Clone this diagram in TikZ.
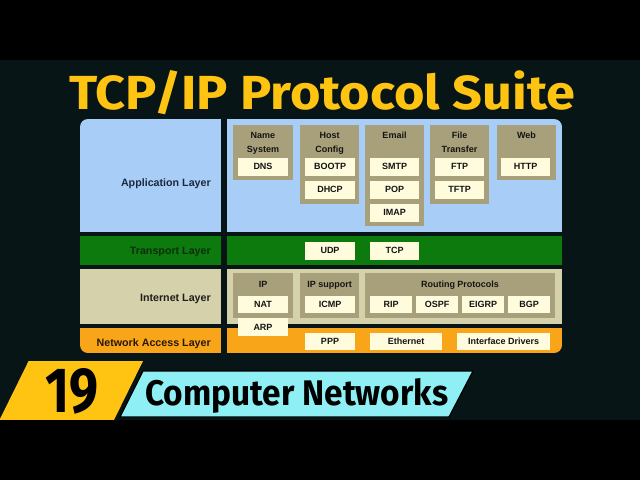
\documentclass[tikz,border=0pt]{standalone}
\usepackage{fontspec}
\setmainfont{Liberation Sans}
\newfontfamily\firafont{Fira Sans}
\definecolor{bgdark}{RGB}{7,21,23}
\definecolor{titleyellow}{RGB}{255,196,18}
\definecolor{appblue}{RGB}{168,206,248}
\definecolor{trgreen}{RGB}{12,122,12}
\definecolor{inbeige}{RGB}{213,209,170}
\definecolor{naorange}{RGB}{249,165,26}
\definecolor{khaki}{RGB}{168,160,122}
\definecolor{cream}{RGB}{255,251,221}
\definecolor{bannercyan}{RGB}{142,240,245}
\definecolor{txtdark}{RGB}{20,20,20}
\definecolor{appnavy}{RGB}{28,40,60}
\definecolor{trdark}{RGB}{12,48,12}
\definecolor{indark}{RGB}{30,30,30}
\definecolor{nadark}{RGB}{40,25,5}
\begin{document}
\begin{tikzpicture}[x=1pt,y=-1pt,
  grp/.style={fill=khaki, inner sep=0, draw=none},
  pbox/.style={fill=cream, inner sep=0, minimum height=18pt, text height=6.5pt, text depth=0pt, font=\bfseries\fontsize{9}{10}\selectfont, text=txtdark},
  ghead/.style={inner sep=0, text height=6.5pt, text depth=0pt, font=\bfseries\fontsize{9}{10}\selectfont, text=txtdark},
  layerlbl/.style={anchor=east, inner sep=0, text height=7.7pt, text depth=0pt, font=\bfseries\fontsize{10.7}{12}\selectfont}
]
\useasboundingbox (0,0) rectangle (640,480);
\fill[black] (0,0) rectangle (640,480);
\fill[bgdark] (0,60) rectangle (640,420);

% title
\node[anchor=base west, inner sep=0, text=titleyellow] (title) at (69,109)
  {\resizebox{506pt}{39pt}{\firafont\bfseries TCP/IP Protocol Suite}};

% layer backgrounds
\begin{scope}
\clip[rounded corners=8pt] (80,119) rectangle (562,353);
\fill[appblue] (80,119) rectangle (221,232);
\fill[appblue] (227,119) rectangle (562,232);
\fill[trgreen] (80,236) rectangle (221,265);
\fill[trgreen] (227,236) rectangle (562,265);
\fill[inbeige] (80,269) rectangle (221,324);
\fill[inbeige] (227,269) rectangle (562,324);
\fill[naorange] (80,328) rectangle (221,353);
\fill[naorange] (227,328) rectangle (562,353);
\end{scope}

% layer labels
\node[layerlbl, text=appnavy] (lApp) at (211,182.7) {Application Layer};
\node[layerlbl, text=trdark] (lTr) at (211,251) {Transport Layer};
\node[layerlbl, text=indark] (lIn) at (211,297.3) {Internet Layer};
\node[layerlbl, text=nadark] (lNa) at (211,342.3) {Network Access Layer};

% application groups
\node[grp, minimum width=60pt, minimum height=55pt] (gName) at (263,152.5) {};
\node[grp, minimum width=59pt, minimum height=79pt] (gHost) at (329.5,164.5) {};
\node[grp, minimum width=59pt, minimum height=101pt] (gEmail) at (394.5,175.5) {};
\node[grp, minimum width=59pt, minimum height=79pt] (gFile) at (459.5,164.5) {};
\node[grp, minimum width=59pt, minimum height=55pt] (gWeb) at (526.5,152.5) {};

\node[ghead] (hName1) at (263,135.7) {Name};
\node[ghead] (hName2) at (263,149) {System};
\node[ghead] (hHost1) at (329.5,135.7) {Host};
\node[ghead] (hHost2) at (329.5,149) {Config};
\node[ghead] (hEmail) at (394.5,135.7) {Email};
\node[ghead] (hFile1) at (459.5,135.7) {File};
\node[ghead] (hFile2) at (459.5,149) {Transfer};
\node[ghead] (hWeb) at (526.5,135.7) {Web};

\node[pbox, minimum width=49.5pt] (dns) at (263,166.7) {DNS};
\node[pbox, minimum width=49.5pt] (bootp) at (330,166.7) {BOOTP};
\node[pbox, minimum width=49.5pt] (dhcp) at (330,189.5) {DHCP};
\node[pbox, minimum width=49.5pt] (smtp) at (394.5,166.7) {SMTP};
\node[pbox, minimum width=49.5pt] (pop) at (394.5,189.5) {POP};
\node[pbox, minimum width=49.5pt] (imap) at (394.5,212.5) {IMAP};
\node[pbox, minimum width=49.5pt] (ftp) at (459.5,166.7) {FTP};
\node[pbox, minimum width=49.5pt] (tftp) at (459.5,189.5) {TFTP};
\node[pbox, minimum width=49.5pt] (http) at (525.5,166.7) {HTTP};

% transport
\node[pbox, minimum width=49.5pt] (udp) at (330,250.5) {UDP};
\node[pbox, minimum width=49.5pt] (tcp) at (394.5,250.5) {TCP};

% internet
\node[grp, minimum width=59.4pt, minimum height=45pt] (gIP) at (263,295.8) {};
\node[grp, minimum width=59.3pt, minimum height=45pt] (gIPs) at (329.7,295.8) {};
\node[grp, minimum width=190pt, minimum height=45pt] (gRout) at (460,295.8) {};
\node[ghead] (hIP) at (263,284) {IP};
\node[ghead] (hIPs) at (329.7,284) {IP support};
\node[ghead] (hRout) at (460,284) {Routing Protocols};
\node[pbox, minimum width=49.5pt, minimum height=17.6pt] (nat) at (263,304.5) {NAT};
\node[pbox, minimum width=49.5pt, minimum height=17.6pt] (icmp) at (330,304.5) {ICMP};
\node[pbox, minimum width=42pt, minimum height=17.6pt] (rip) at (391,304.5) {RIP};
\node[pbox, minimum width=42pt, minimum height=17.6pt] (ospf) at (437,304.5) {OSPF};
\node[pbox, minimum width=42pt, minimum height=17.6pt] (eigrp) at (483,304.5) {EIGRP};
\node[pbox, minimum width=42pt, minimum height=17.6pt] (bgp) at (529,304.5) {BGP};
\node[pbox, minimum width=49.5pt, minimum height=17.7pt] (arp) at (263,327.2) {ARP};

% network access
\node[pbox, minimum width=49.5pt, minimum height=17.4pt] (ppp) at (330,341.3) {PPP};
\node[pbox, minimum width=72pt, minimum height=17.4pt] (eth) at (406.2,341.3) {Ethernet};
\node[pbox, minimum width=93pt, minimum height=17.4pt] (ifd) at (503.7,341.3) {Interface Drivers};

% bottom banner
\fill[titleyellow] (28.6,361) -- (143,361) -- (113.5,421) -- (-1,421) -- cycle;
\fill[bannercyan, draw=black, line width=1.2pt] (143,371) -- (473,371) -- (449,417) -- (120,417) -- cycle;
\fill[black] (0,420) rectangle (640,480);
\node[anchor=base west, inner sep=0, text=black] (num) at (45,412)
  {\resizebox{53pt}{44pt}{\firafont\bfseries 19}};
\node[anchor=base west, inner sep=0, text=black] (course) at (145,405.5)
  {\resizebox{303pt}{27pt}{\firafont\bfseries Computer Networks}};
\end{tikzpicture}
\end{document}
